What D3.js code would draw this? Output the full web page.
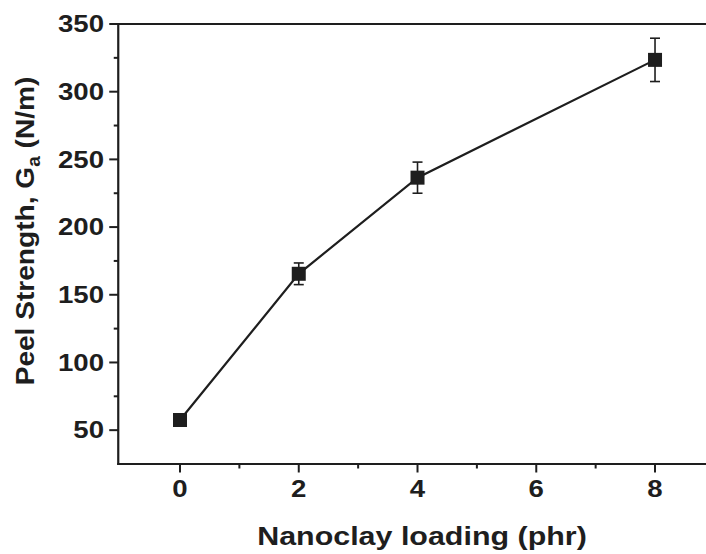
<!DOCTYPE html>
<html>
<head>
<meta charset="utf-8">
<script src="https://cdn.jsdelivr.net/npm/d3@7"></script>
<style>
  html, body { margin: 0; padding: 0; background: #fff; }
  svg { display: block; }
  text { font-family: "Liberation Sans", Arial, Helvetica, sans-serif; font-weight: bold; fill: #1e1e1e; }
</style>
</head>
<body>
<svg id="chart" width="706" height="554"></svg>
<script>
// ---- data ----
const loading = [0, 2, 4, 8];                 // Nanoclay loading (phr)
const peelStrength = [57.5, 165.5, 236.5, 323.5]; // Peel strength Ga (N/m)
const peelError = [4, 8, 11.5, 16];           // error bar half-heights
const xTickValues = [0, 2, 4, 6, 8];
const xMinorTicks = [1, 3, 5, 7, 9];
const yTickValues = [50, 100, 150, 200, 250, 300, 350];
const yMinorTicks = [75, 125, 175, 225, 275, 325];
const xTitle = "Nanoclay loading (phr)";
const yTitleMain = "Peel Strength, G";
const yTitleSub = "a";
const yTitleEnd = " (N/m)";

const svg = d3.select("#chart");
const ink = "#1e1e1e";

const x = d3.scaleLinear().domain([-1.04, 9]).range([118.25, 714.4]);
const y = d3.scaleLinear().domain([25, 350]).range([464, 24]);

function stretch(sel, factor) {
  sel.each(function () {
    const L = this.getComputedTextLength();
    d3.select(this).attr("textLength", L * factor).attr("lengthAdjust", "spacingAndGlyphs");
  });
}

// frame: left, bottom, top
const frame = svg.append("g").attr("stroke", ink).attr("stroke-width", 2.2).attr("fill", "none");
frame.append("line").attr("x1", x(-1.04)).attr("x2", x(-1.04)).attr("y1", y(350)).attr("y2", y(25) + 1);
frame.append("line").attr("x1", x(-1.04) - 1).attr("x2", 706).attr("y1", y(25)).attr("y2", y(25));
frame.append("line").attr("x1", x(-1.04) - 1).attr("x2", 706).attr("y1", y(350)).attr("y2", y(350));

// y axis ticks
const gy = svg.append("g");
gy.selectAll("line.maj").data(yTickValues).join("line")
  .attr("x1", x(-1.04) - 9).attr("x2", x(-1.04))
  .attr("y1", d => y(d)).attr("y2", d => y(d))
  .attr("stroke", ink).attr("stroke-width", 2);
gy.selectAll("line.min").data(yMinorTicks).join("line")
  .attr("x1", x(-1.04) - 4.5).attr("x2", x(-1.04))
  .attr("y1", d => y(d)).attr("y2", d => y(d))
  .attr("stroke", ink).attr("stroke-width", 2);
const yLabels = gy.selectAll("text").data(yTickValues).join("text")
  .attr("x", 104).attr("y", d => y(d) + 8.3)
  .attr("text-anchor", "end")
  .attr("font-size", 23)
  .text(d => d);
stretch(yLabels, 1.2);

// x axis ticks
const gx = svg.append("g");
gx.selectAll("line.maj").data(xTickValues).join("line")
  .attr("x1", d => x(d)).attr("x2", d => x(d))
  .attr("y1", y(25)).attr("y2", y(25) + 8.5)
  .attr("stroke", ink).attr("stroke-width", 2);
gx.selectAll("line.min").data(xMinorTicks).join("line")
  .attr("x1", d => x(d)).attr("x2", d => x(d))
  .attr("y1", y(25)).attr("y2", y(25) + 4.5)
  .attr("stroke", ink).attr("stroke-width", 2);
const xLabels = gx.selectAll("text").data(xTickValues).join("text")
  .attr("x", d => x(d)).attr("y", 497)
  .attr("text-anchor", "middle")
  .attr("font-size", 23)
  .text(d => d);
stretch(xLabels, 1.2);

// axis titles
const xt = svg.append("text")
  .attr("x", 422).attr("y", 545)
  .attr("text-anchor", "middle")
  .attr("font-size", 26)
  .text(xTitle);
stretch(xt, 1.17);

const yt = svg.append("text")
  .attr("transform", "translate(34,231) rotate(-90)")
  .attr("text-anchor", "middle")
  .attr("font-size", 26.5);
yt.append("tspan").text(yTitleMain);
yt.append("tspan").attr("font-size", 18).attr("dy", 6).text(yTitleSub);
yt.append("tspan").attr("dy", -6).text(yTitleEnd);
stretch(yt, 1.06);

// data
const pts = loading.map((v, i) => ({ x: v, y: peelStrength[i], e: peelError[i] }));

svg.append("path")
  .datum(pts)
  .attr("fill", "none").attr("stroke", ink).attr("stroke-width", 2.2)
  .attr("d", d3.line().x(d => x(d.x)).y(d => y(d.y)));

const eb = svg.append("g").attr("stroke", ink).attr("stroke-width", 1.6);
eb.selectAll("line.v").data(pts).join("line")
  .attr("x1", d => x(d.x)).attr("x2", d => x(d.x))
  .attr("y1", d => y(d.y + d.e)).attr("y2", d => y(d.y - d.e));
eb.selectAll("line.t").data(pts).join("line")
  .attr("x1", d => x(d.x) - 5).attr("x2", d => x(d.x) + 5)
  .attr("y1", d => y(d.y + d.e)).attr("y2", d => y(d.y + d.e));
eb.selectAll("line.b").data(pts).join("line")
  .attr("x1", d => x(d.x) - 5).attr("x2", d => x(d.x) + 5)
  .attr("y1", d => y(d.y - d.e)).attr("y2", d => y(d.y - d.e));

svg.append("g").selectAll("rect").data(pts).join("rect")
  .attr("x", d => x(d.x) - 7).attr("y", d => y(d.y) - 7)
  .attr("width", 14).attr("height", 14)
  .attr("fill", ink);
</script>
</body>
</html>
